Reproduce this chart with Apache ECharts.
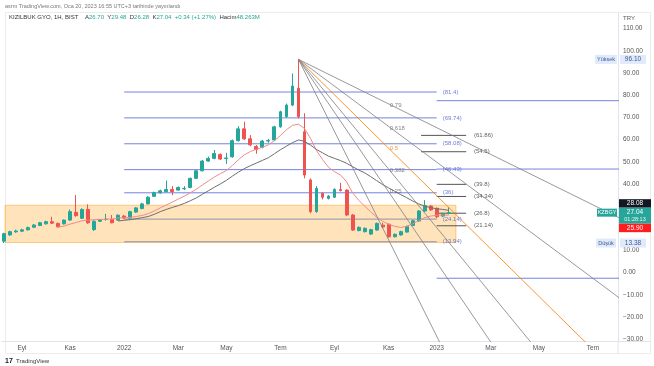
<!DOCTYPE html>
<html><head><meta charset="utf-8">
<script src="https://cdn.jsdelivr.net/npm/echarts@6/dist/echarts.min.js"></script>
<style>html,body{margin:0;padding:0;background:#fff}#c{width:654px;height:366px}</style>
</head><body><div id="c"></div>
<script>
// weekly candles, week index 0 = 2021-08-16 ; rows: [open, close, low, high]
const ohlc = [
 [14.2,17.6,13.38,18.0],[17.0,18.5,16.6,18.9],[18.4,18.8,18.0,19.4],[18.7,19.3,18.3,19.8],
 [19.3,20.3,19.0,20.8],[20.5,21.5,20.1,21.9],[21.3,22.5,21.0,22.9],[22.0,23.0,21.7,23.4],
 [23.0,22.3,21.9,25.2],[22.2,20.7,20.3,22.6],[22.0,23.7,21.7,24.0],[23.7,27.5,23.4,28.5],
 [27.2,25.7,25.2,35.0],[24.5,28.5,24.2,29.0],[28.5,22.5,22.0,30.8],[19.4,23.2,18.8,23.6],
 [23.2,23.8,22.8,24.2],[24.0,24.1,23.4,26.5],[24.0,22.5,22.2,26.0],[23.7,25.9,23.4,26.3],
 [25.5,24.6,24.2,26.0],[24.6,27.5,24.3,27.9],[27.3,29.2,27.0,29.6],[28.9,31.0,28.6,31.5],
 [31.0,34.0,30.7,34.5],[34.4,36.0,34.1,36.5],[36.0,36.9,35.6,37.4],[36.5,37.5,36.2,41.5],
 [37.5,36.5,35.0,39.0],[37.2,38.4,36.9,38.8],[37.8,38.0,37.2,39.0],[38.4,42.5,38.1,42.9],
 [42.5,45.9,42.2,46.3],[45.9,50.3,45.6,50.8],[50.3,51.5,49.9,52.3],[51.5,53.7,51.1,55.3],
 [53.3,51.2,50.8,53.7],[51.4,51.7,49.0,54.0],[52.2,59.5,51.8,60.0],[59.5,64.8,59.0,66.0],
 [64.8,60.3,59.8,68.0],[60.3,57.6,57.0,62.0],[56.9,55.5,53.6,57.5],[56.5,59.3,56.0,59.8],
 [59.3,59.6,58.5,60.3],[59.8,65.7,59.4,66.2],[65.7,72.5,65.3,73.0],[70.3,75.5,69.8,76.2],
 [75.5,84.1,75.0,89.8],[83.1,70.3,69.5,96.1],[63.5,44.0,42.5,71.8],[41.8,27.5,26.8,42.5],
 [27.5,38.0,27.0,39.0],[35.7,34.0,33.0,36.2],[33.5,34.5,33.0,35.0],[34.0,37.5,33.7,38.0],
 [37.5,37.0,36.6,40.5],[37.2,26.0,25.5,37.6],[26.0,19.2,18.8,26.4],[19.0,20.4,18.6,20.9],
 [18.5,20.0,18.1,20.4],[17.4,19.4,17.0,19.8],[19.2,22.2,18.9,22.6],[21.4,20.6,20.0,22.5],
 [21.8,16.2,15.8,22.2],[16.2,17.3,15.9,17.7],[17.0,18.5,16.7,18.9],[18.3,20.8,18.0,21.2],
 [21.3,23.4,21.0,23.8],[23.3,27.8,23.0,28.2],[27.8,30.2,27.4,32.7],[30.0,28.3,27.8,30.5],
 [29.0,25.2,24.5,29.4],[25.5,26.7,25.1,27.0],[26.70,27.04,26.28,29.48]
];
const redMA = [null,null,null,null,null,null,null,null,null,
 20.5,21.0,21.9,22.6,23.4,23.7,23.9,24.0,24.1,24.2,24.6,24.8,24.9,25.3,25.8,26.6,27.8,29.2,30.5,31.8,
 33.2,34.5,36.0,37.6,39.5,41.3,43.1,44.6,46.0,48.3,50.9,53.1,54.6,55.6,56.5,57.6,59.5,61.8,64.4,66.4,
 66.9,65.0,60.5,55.0,51.0,47.5,45.5,44.0,41.0,36.0,32.7,30.0,27.5,25.0,23.2,21.8,20.9,20.4,20.9,22.0,
 23.5,24.8,25.5,25.9,26.0,25.9];
const grayMA = [null,null,null,null,null,null,null,null,null,null,null,null,null,null,null,null,null,null,null,
 23.3,23.6,23.9,24.3,24.8,25.3,26.3,27.5,28.5,29.4,30.2,31.2,32.4,33.7,35.3,36.9,38.5,40.0,41.6,43.5,
 45.3,46.9,48.2,49.4,50.6,51.8,53.6,55.4,57.0,58.6,59.8,59.2,57.5,55.5,54.0,52.5,51.5,50.5,49.3,47.8,
 46.3,45.0,43.3,41.5,39.7,38.2,36.7,35.2,33.8,32.3,31.0,30.0,29.3,28.8,28.5,28.1];

const xTickWeeks = [3,11,20,29,37,46,55,64,72,81,89,98];
const xTickLabels = ['Eyl','Kas','2022','Mar','May','Tem','Eyl','Kas','2023','Mar','May','Tem'];
const yTicks = [-30,-20,-10,0,10,40,50,60,70,80,90,100,110];

// drawings (data units: week index, price)
const zoneWeeks = [0.17, 75.2];
const zonePrices = [13.6, 30.4];
const fibLevels = [81.4, 69.74, 58.08, 46.43, 36];
const fibLevelsLow = [24.14, 13.94];
const fibSpan = [20, 72];
const fibLabelWeek = 73.0;
const extLevels = [61.86, 54.5, 39.8, 34.34, 26.8, 21.14];
const extStarts = [69.4, 69.4, 72, 72, 72, 72];
const extEnd = 76.9;
const extLabelWeek = 78.2;
const rayLevels = [77.5, 46.7, -2.5];
const rayStart = 72;
const fanOrigin = [49, 96.1];
const fanEnds = [[110,14.5],[110,-26.7],[100.0,-40],[90.3,-40],[83.2,-40],[74.1,-40]];
const fanRatios = ['0.79','0.618','0.5','0.382','0.25'];
const fanRatioPrices = [75.5, 65.2, 56.2, 46.3, 36.8];
const fanLabelWeek = 64.2;
const tags = {high:96.10, low:13.38, last:27.04, dark:28.08, red:25.90};

const FONT = 'Liberation Sans';
const GREEN = '#26a69a', RED = '#ef5350', BLUE = '#7384e0', FANC = '#7d7f88', ORANGE = '#f57c00';
const fmtLvl = v => String(v);

function segs(list){ const d=[]; list.forEach((s,i)=>{ if(i) d.push(['-','-']); d.push(s[0], s[1]); }); return d; }
function lineSeries(list, color, width, z){
  return {type:'line', data:segs(list), symbol:'none', showSymbol:false, connectNulls:false, silent:true,
    lineStyle:{color, width}, z, animation:false};
}
function labelSeries(items, color, z){
  return {type:'scatter', symbolSize:0, silent:true, z, animation:false,
    data: items.map(it=>({name:it[0], value:[it[1], it[2]]})),
    label:{show:true, formatter:'{b}', position:'right', distance:0, color, fontSize:6, fontFamily:FONT}};
}

const chart = echarts.init(document.getElementById('c'));
const series = [];
series.push({type:'custom', silent:true, z:1, animation:false, data:[[zoneWeeks[0], zonePrices[0]]],
  renderItem:(p, api)=>{ const a = api.coord([zoneWeeks[0], zonePrices[1]]), b = api.coord([zoneWeeks[1], zonePrices[0]]);
    return {type:'rect', shape:{x:a[0], y:a[1], width:b[0]-a[0], height:b[1]-a[1]},
      style:{fill:'rgba(255,152,0,0.27)', stroke:'rgba(255,152,0,0.45)', lineWidth:1}}; }});
series.push(lineSeries(fibLevels.map(v=>[[fibSpan[0],v],[fibSpan[1],v]]), BLUE, 1, 2));
series.push(lineSeries(fibLevelsLow.map(v=>[[fibSpan[0],v],[fibSpan[1],v]]), '#8e93ad', 1, 2));
series.push(lineSeries(rayLevels.map(v=>[[rayStart,v],[110,v]]), BLUE, 1, 2));
series.push(lineSeries(extLevels.map((v,i)=>[[extStarts[i],v],[extEnd,v]]), '#555', 1, 2));
series.push({type:'candlestick', z:3, animation:false, silent:true, barWidth:3.4,
  data: ohlc.map((r,k)=>[k, r[0], r[1], r[2], r[3]]),
  itemStyle:{color:GREEN, color0:RED, borderColor:GREEN, borderColor0:RED, borderWidth:1}});
series.push({type:'line', z:4, symbol:'none', silent:true, animation:false, connectNulls:false,
  data: redMA.map((v,k)=>[k, v==null?'-':v]), lineStyle:{color:'#f08b8b', width:1}});
series.push({type:'line', z:4, symbol:'none', silent:true, animation:false, connectNulls:false,
  data: grayMA.map((v,k)=>[k, v==null?'-':v]), lineStyle:{color:'#6e6e6e', width:1}});
fanEnds.forEach((e,i)=>{
  series.push(lineSeries([[fanOrigin, e]], i===2 ? ORANGE : FANC, 0.8, 5));
});
series.push(labelSeries(fibLevels.concat(fibLevelsLow).map(v=>['('+fmtLvl(v)+')', fibLabelWeek, v]), '#4a5bd0', 6));
series.push(labelSeries(extLevels.map(v=>['('+fmtLvl(v)+')', extLabelWeek, v]), '#333', 6));
series.push(labelSeries(fanRatios.map((t,i)=>[t, fanLabelWeek, fanRatioPrices[i]]).filter(d=>d[0]!=='0.5'), '#666', 6));
series.push(labelSeries([[fanRatios[2], fanLabelWeek, fanRatioPrices[2]]], ORANGE, 6));

chart.setOption({
  animation:false,
  backgroundColor:'#fff',
  grid:{left:2, right:36, top:13, bottom:24.5},
  xAxis:{type:'value', min:-0.333, max:102.167,
    axisLine:{show:true, onZero:false, lineStyle:{color:'#e0e3eb'}}, axisTick:{show:false}, splitLine:{show:false},
    axisLabel:{customValues:xTickWeeks, margin:3, color:'#555', fontSize:6.5, fontFamily:FONT,
      formatter:v=>xTickLabels[xTickWeeks.indexOf(Math.round(v))]}},
  yAxis:{type:'value', position:'right', min:-31, max:117,
    axisLine:{show:true, onZero:false, lineStyle:{color:'#e0e3eb'}}, axisTick:{show:false}, splitLine:{show:false},
    axisLabel:{customValues:yTicks, margin:5, color:'#555', fontSize:6.5, fontFamily:FONT,
      formatter:v=>(v<0?'\u2212':'')+Math.abs(v).toFixed(2)}},
  series
});

const py = v => chart.convertToPixel({yAxisIndex:0}, v);
const AX = 618;
function tag(x, y, w, h, fill, text, color, size){
  return {type:'group', children:[
    {type:'rect', shape:{x, y, width:w, height:h}, style:{fill}, z:100},
    {type:'text', x:x+w/2, y:y+h/2, style:{text, fill:color, font:size+'px "'+FONT+'"', align:'center', verticalAlign:'middle'}, z:101}
  ]};
}
const yHigh = py(tags.high), yLow = py(tags.low), yLast = py(tags.last);
const tealTop = yLast - 5, tealH = 16;
const g = [
  {type:'rect', shape:{x:5.5, y:12.5, width:645, height:341}, style:{fill:'none', stroke:'#ececec', lineWidth:1}, z:0},
  {type:'line', shape:{x1:AX, y1:341.5, x2:AX, y2:353.5}, style:{stroke:'#e0e3eb'}},
  {type:'line', shape:{x1:AX, y1:341.5, x2:650.5, y2:341.5}, style:{stroke:'#e0e3eb'}},
  {type:'text', x:5, y:6, style:{text:'asrm TradingView.com, Oca 20, 2023 16:55 UTC+3 tarihinde yay\u0131nland\u0131', fill:'#777', font:'5.5px "'+FONT+'"', verticalAlign:'middle'}},
  {type:'text', x:9, y:17.5, style:{text:'{a|KIZILBUK GYO, 1H, BIST}  {a|A}{b|26.70} {a|Y}{b|29.48} {a|D}{b|26.28} {a|K}{b|27.04} {b|+0.34 (+1.27%)} {a|Hacim}{b|48.263M}',
    verticalAlign:'middle', rich:{a:{fill:'#333', font:'6px "'+FONT+'"'}, b:{fill:GREEN, font:'6px "'+FONT+'"'}}}},
  {type:'text', x:623, y:18, style:{text:'TRY', fill:'#555', font:'6px "'+FONT+'"', verticalAlign:'middle'}},
  {type:'text', x:5, y:361, style:{text:'{l|17} {t|TradingView}', verticalAlign:'middle',
    rich:{l:{fill:'#131722', font:'bold 7px "'+FONT+'"'}, t:{fill:'#333', font:'6px "'+FONT+'"'}}}},
  tag(595, yHigh-4.5, 22, 9, '#e1eafa', 'Y\u00fcksek', '#3b5998', 5.5),
  tag(AX+2, yHigh-4.5, 26, 9, '#e1eafa', tags.high.toFixed(2), '#3b5998', 6.5),
  tag(AX+1, tealTop-8.5, 32, 8.5, '#131722', tags.dark.toFixed(2), '#fff', 6.5),
  {type:'group', children:[
    {type:'rect', shape:{x:AX+1, y:tealTop, width:32, height:tealH}, style:{fill:GREEN}, z:100},
    {type:'text', x:AX+17, y:tealTop+4.5, style:{text:tags.last.toFixed(2), fill:'#fff', font:'6.5px "'+FONT+'"', align:'center', verticalAlign:'middle'}, z:101},
    {type:'text', x:AX+17, y:tealTop+11.5, style:{text:'01:28:13', fill:'#e8f7f5', font:'5.5px "'+FONT+'"', align:'center', verticalAlign:'middle'}, z:101}
  ]},
  tag(597, yLast-4, 20, 8, GREEN, 'KZBGY', '#fff', 5.5),
  tag(AX+1, tealTop+tealH, 32, 8.5, '#ff1e1e', tags.red.toFixed(2), '#fff', 6.5),
  tag(596, yLow-4.5, 20, 9, '#e1eafa', 'D\u00fc\u015f\u00fck', '#3b5998', 5.5),
  tag(AX+2, yLow-4.5, 26, 9, '#e1eafa', tags.low.toFixed(2), '#3b5998', 6.5)
];
chart.setOption({graphic:g});
</script></body></html>
